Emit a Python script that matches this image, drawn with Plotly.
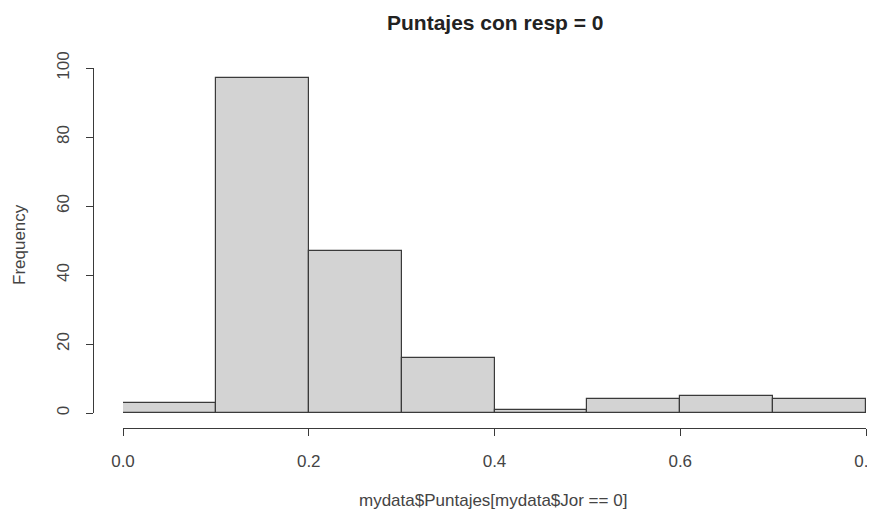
import plotly.graph_objects as go

bin_left = [0.0, 0.1, 0.2, 0.3, 0.4, 0.5, 0.6, 0.7]
bin_width = 0.1
counts = [3, 97, 47, 16, 1, 4, 5, 4]
x_ticks = [0.0, 0.2, 0.4, 0.6, 0.8]
x_tick_labels = ["0.0", "0.2", "0.4", "0.6", "0.8"]
y_ticks = [0, 20, 40, 60, 80, 100]
title = "Puntajes con resp = 0"
x_title = "mydata$Puntajes[mydata$Jor == 0]"
y_title = "Frequency"

OFF = 8  # page body margin
W, H = 875 - OFF, 515 - OFF
def px(x):
    return (x - OFF) / W
def py(y):
    return 1 - (y - OFF) / H

font = "Liberation Sans, Arial, sans-serif"
txt = "#444444"
ln = "#3a3a3a"

fig = go.Figure()
fig.add_trace(go.Bar(
    x=[b + bin_width / 2 for b in bin_left],
    y=counts,
    width=[bin_width] * len(counts),
    marker=dict(color="#D3D3D3", line=dict(color=ln, width=1.2)),
    showlegend=False,
    cliponaxis=False,
))

fig.update_layout(
    width=W, height=H,
    margin=dict(l=0, r=0, t=0, b=0),
    paper_bgcolor="white", plot_bgcolor="white",
    bargap=0,
    font=dict(family=font, size=17, color=txt),
    xaxis=dict(
        domain=[px(123), px(866)],
        range=[0, 0.8],
        anchor="free", position=py(428),
        showgrid=False, zeroline=False,
        showline=True, linecolor=ln, linewidth=1.2,
        ticks="outside", ticklen=7, tickcolor=ln, tickwidth=1.2,
        tickvals=x_ticks, ticktext=x_tick_labels,
        tickfont=dict(size=17, color=txt),
        ticklabelstandoff=10,
        ticklabeloverflow="allow",
        automargin=False,
    ),
    yaxis=dict(
        domain=[py(413), py(68)],
        range=[0, 100],
        anchor="free", position=px(93),
        showgrid=False, zeroline=False,
        showline=True, linecolor=ln, linewidth=1.2,
        ticks="outside", ticklen=7, tickcolor=ln, tickwidth=1.2,
        tickvals=y_ticks,
        tickangle=-90,
        tickfont=dict(size=17, color=txt),
        ticklabelstandoff=10,
        ticklabeloverflow="allow",
        automargin=False,
    ),
    annotations=[
        dict(text="<b>" + title + "</b>", x=px(495), y=py(22), xref="paper", yref="paper",
             showarrow=False, font=dict(size=21, color="#222", family=font),
             xanchor="center", yanchor="middle"),
        dict(text=x_title, x=px(493), y=py(500), xref="paper", yref="paper",
             showarrow=False, font=dict(size=17, color=txt, family=font),
             xanchor="center", yanchor="middle"),
        dict(text=y_title, x=px(20), y=py(245), xref="paper", yref="paper",
             showarrow=False, textangle=-90, font=dict(size=17, color=txt, family=font),
             xanchor="center", yanchor="middle"),
    ],
)

fig.write_html("out.html")
